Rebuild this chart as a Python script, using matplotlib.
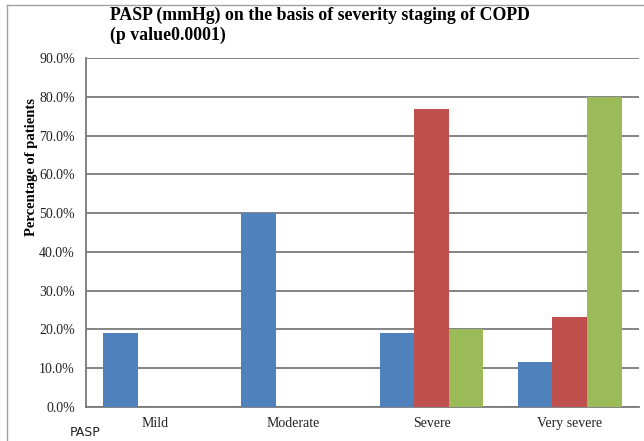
"""PASP (mmHg) por estágio de gravidade da DPOC."""

import matplotlib.pyplot as plt
from matplotlib.lines import Line2D
from matplotlib.ticker import FuncFormatter
import numpy as np

categorias = ["Mild", "Moderate", "Severe", "Very severe"]
serie_azul = [19.2, 50.0, 19.2, 11.5]
serie_vermelha = [0.0, 0.0, 76.9, 23.1]
serie_verde = [0.0, 0.0, 20.0, 80.0]

cores = ["#4F81BD", "#C0504D", "#9BBB59"]
serif = ["Liberation Serif", "DejaVu Serif"]

fig = plt.figure(figsize=(6.44, 4.41), dpi=100)
ax = fig.add_axes([0.1335, 0.0771, 0.8585, 0.7914])

x = np.arange(len(categorias))
largura = 0.25
for i, (valores, cor) in enumerate(zip([serie_azul, serie_vermelha, serie_verde], cores)):
    ax.bar(x + (i - 1) * largura, valores, largura, color=cor, zorder=3)

ax.set_xlim(-0.5, 3.5)
ax.set_ylim(0, 90)
ax.set_yticks(np.arange(0, 91, 10))
ax.yaxis.set_major_formatter(FuncFormatter(lambda v, _: f"{v:.1f}%"))
ax.set_xticks(x)
ax.set_xticklabels(categorias, fontfamily=serif, fontsize=10)
for rotulo in ax.get_yticklabels():
    rotulo.set_fontfamily(serif)
    rotulo.set_fontsize(10)
ax.tick_params(axis="both", length=0, colors="#222222", pad=7)
ax.tick_params(axis="y", pad=8)
ax.grid(axis="y", color="#7a7a7a", linewidth=1.3, zorder=0)
for lado in ["top", "right"]:
    ax.spines[lado].set_visible(False)
for lado in ["left", "bottom"]:
    ax.spines[lado].set_color("#7a7a7a")
    ax.spines[lado].set_linewidth(1.3)

fig.text(110 / 644, 1 - 7 / 441, "PASP (mmHg) on the basis of severity staging of COPD\n(p value0.0001)",
         fontfamily=serif, fontweight="bold", fontsize=12.8, va="top", ha="left", linespacing=1.2)
fig.text(32 / 644, 1 - 167 / 441, "Percentage of patients", rotation=90,
         fontfamily=serif, fontweight="bold", fontsize=10.5, va="center", ha="center")
fig.text(70 / 644, 1 - 433 / 441, "PASP", fontsize=9, va="center", ha="left", color="#222222")

# moldura cortada do gráfico original
fig.add_artist(Line2D([7 / 644, 7 / 644], [0, 1 - 5 / 441], transform=fig.transFigure,
                      color="#a0a0a0", linewidth=1))
fig.add_artist(Line2D([7 / 644, 1], [1 - 5 / 441, 1 - 5 / 441], transform=fig.transFigure,
                      color="#a0a0a0", linewidth=1))

fig.savefig("out.png", dpi=100)
plt.close(fig)
